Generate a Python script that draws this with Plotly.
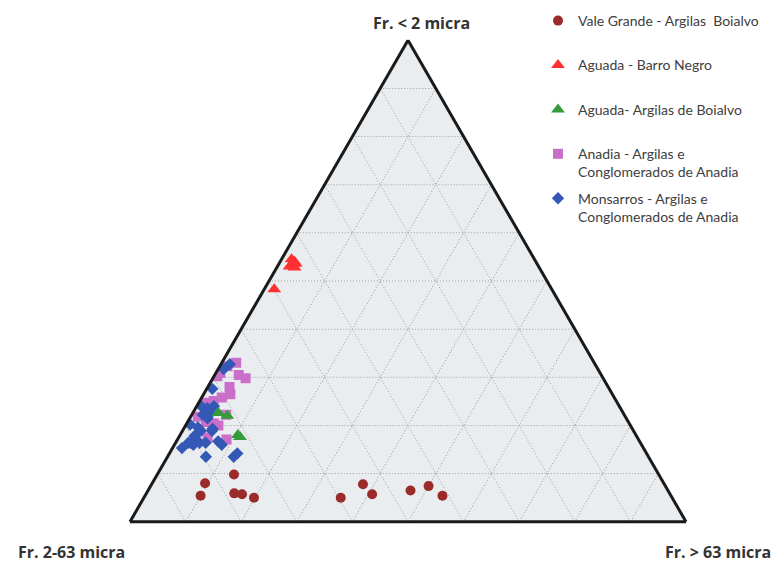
# Ternary diagram of grain size fractions
import plotly.graph_objects as go

# Data (percent): a = Fr. < 2 micra, c = Fr. > 63 micra (b follows from sum = 100)
vale_a = [8.0, 5.4, 9.8, 5.9, 5.7, 5.0, 5.0, 7.8, 5.7, 6.5, 7.4, 5.4]
vale_c = [9.5, 10.0, 13.8, 15.8, 17.3, 19.8, 35.4, 38.0, 40.7, 47.2, 50.0, 53.5]

barro_a = [54.5, 54.0, 53.0, 52.8, 53.6, 48.3]
barro_c = [1.8, 2.6, 2.2, 3.2, 3.0, 1.8]

boialvo_a = [22.6, 22.0, 18.0, 17.6]
boialvo_c = [4.6, 6.5, 10.4, 11.0]

anadia_a = [33.0, 32.3, 30.9, 30.2, 30.5, 29.8, 28.0, 26.5, 25.8, 25.1,
            22.2, 21.8, 22.9, 20.4, 20.0, 17.5, 17.1, 24.7, 20.7]
anadia_c = [2.6, 1.4, 0.8, 0.6, 4.3, 5.9, 3.9, 4.8, 3.6, 2.5,
            6.2, 1.3, 2.2, 4.9, 5.9, 5.2, 8.8, 1.3, 3.3]

monsarros_a = [32.7, 31.7, 27.6, 24.0, 23.6, 22.2, 22.5, 20.2, 19.6, 18.9,
               18.9, 17.8, 16.4, 16.0, 15.3, 16.4, 16.4, 16.7, 16.0, 14.2,
               13.5, 13.5, 24.0, 21.5, 19.3, 16.4]
monsarros_c = [1.6, 1.0, 1.0, 0.8, 2.1, 2.0, 3.2, 0.7, 2.4, 3.3,
               5.3, 2.7, 2.3, 3.4, 1.7, 4.3, 5.4, 7.5, 8.5, 12.2,
               11.9, 6.9, 3.1, 3.2, 5.2, 2.7]

# name, a, c, symbol, colour, size, legend rank (drawing order differs from legend order)
series = [
    ("Vale Grande - Argilas  Boialvo<br> ", vale_a, vale_c, "circle", "#9B2B2B", 10, 1),
    ("Aguada - Barro Negro<br> ", barro_a, barro_c, "triangle-up", "#FF3030", 12, 2),
    ("Anadia - Argilas e<br>Conglomerados de Anadia", anadia_a, anadia_c, "square", "#C96FC9", 10, 4),
    ("Monsarros - Argilas e<br>Conglomerados de Anadia", monsarros_a, monsarros_c, "diamond", "#3358B5", 9.5, 5),
    ("Aguada- Argilas de Boialvo<br> ", boialvo_a, boialvo_c, "triangle-up", "#349A3A", 12, 3),
]

fig = go.Figure()
for name, a, c, sym, col, size, rank in series:
    fig.add_trace(go.Scatterternary(
        a=a, c=c, mode="markers", name=name, legendgroup=str(rank), legendrank=rank,
        marker=dict(symbol=sym, color=col, size=size, line=dict(width=0)),
    ))

axis_style = dict(
    showticklabels=False, ticks="", showline=True, linecolor="#1a1a1a", linewidth=3,
    showgrid=True, gridcolor="#A0A0A0", griddash="1px,2px", gridwidth=1, dtick=10,
    title=dict(text=""),
)

W, H = 779, 563
fig.update_layout(
    width=W, height=H,
    margin=dict(l=0, r=0, t=0, b=0),
    paper_bgcolor="white",
    ternary=dict(
        sum=100,
        bgcolor="#E9EDEF",
        domain=dict(x=[130 / W, 686 / W], y=[41 / H, 523 / H]),
        aaxis=axis_style, baxis=axis_style, caxis=axis_style,
    ),
    legend=dict(
        x=538 / W, y=1.0 - 5 / H, xanchor="left", yanchor="top",
        traceorder="grouped", tracegroupgap=5, valign="top",
        font=dict(family="Lato", size=14, color="#404040"),
        bgcolor="rgba(0,0,0,0)", itemwidth=30,
    ),
    showlegend=True,
)

title_font = dict(family="Open Sans", size=16, color="#333333", weight="bold")
fig.add_annotation(text="Fr. < 2 micra", x=421.5 / W, y=(H - 23) / H, xref="paper", yref="paper",
                   showarrow=False, font=title_font, xanchor="center", yanchor="middle")
fig.add_annotation(text="Fr. 2-63 micra", x=71.5 / W, y=(H - 552) / H, xref="paper", yref="paper",
                   showarrow=False, font=title_font, xanchor="center", yanchor="middle")
fig.add_annotation(text="Fr. > 63 micra", x=717.5 / W, y=(H - 552) / H, xref="paper", yref="paper",
                   showarrow=False, font=title_font, xanchor="center", yanchor="middle")

# drop the default page margin so the figure sits at the window's top-left corner
fig.write_html("out.html", config={"displayModeBar": False},
               post_script="document.body.style.margin='0px';")
